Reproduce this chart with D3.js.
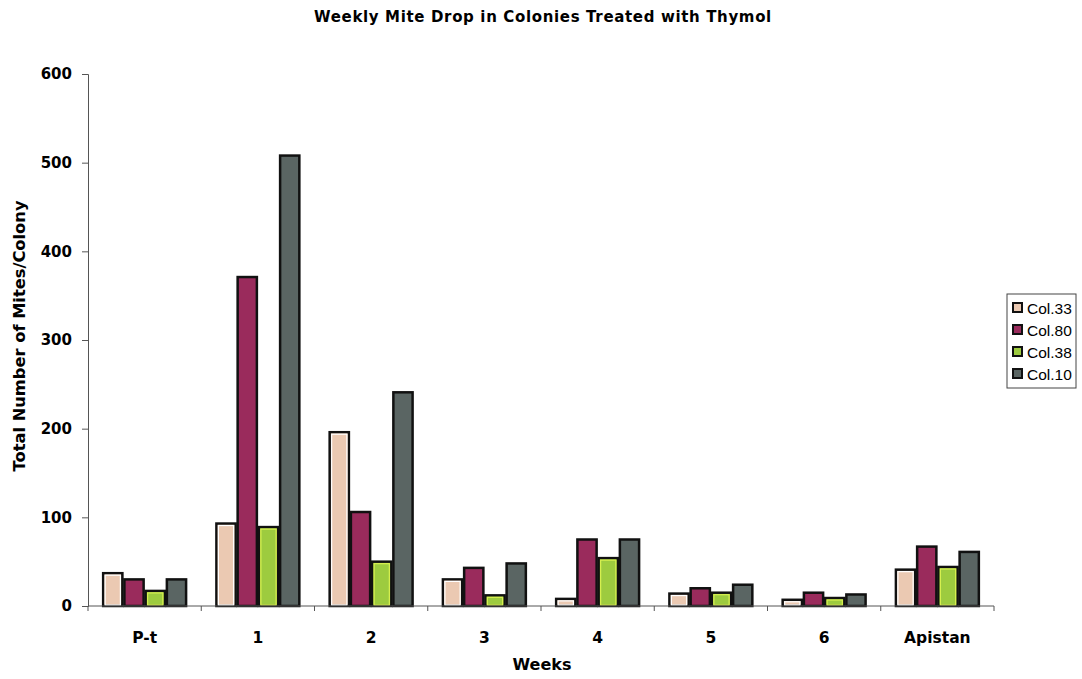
<!DOCTYPE html>
<html>
<head>
<meta charset="utf-8">
<script src="https://cdn.jsdelivr.net/npm/d3@7"></script>
<style>
  html, body { margin: 0; padding: 0; background: #fff; }
  svg { display: block; font-family: "Liberation Sans", Arial, sans-serif; }
  .heavy { font-family: "DejaVu Sans", sans-serif; font-weight: bold; }
</style>
</head>
<body>
<svg id="chart" width="1082" height="679"></svg>
<script>
// Week categories along the x axis
const weeks = ["P-t", "1", "2", "3", "4", "5", "6", "Apistan"];
// Colonies shown in each week group
const colonies = ["Col.33", "Col.80", "Col.38", "Col.10"];
// Total mites dropped per colony, one array per colony, ordered by week
const col33 = [37, 93, 196, 30, 8, 14, 7, 41];
const col80 = [30, 371, 106, 43, 75, 20, 15, 67];
const col38 = [17, 89, 50, 12, 54, 15, 9, 44];
const col10 = [30, 508, 241, 48, 75, 24, 13, 61];
const yTicks = [0, 100, 200, 300, 400, 500, 600];

const seriesValues = [col33, col80, col38, col10];
const fills = ["#ebc9b2", "#9a2b5c", "#9dcb3f", "#5a6563"];
const inner = ["#ffffff", null, "#d8f050", null];

const svg = d3.select("#chart");
const m = { left: 88, right: 994, top: 74, bottom: 606 };

const x = d3.scaleBand().domain(weeks).range([m.left, m.right]).paddingInner(0.25).paddingOuter(0.125);
const xs = d3.scaleBand().domain(colonies).range([0, x.bandwidth()]);
const y = d3.scaleLinear().domain([0, 600]).range([m.bottom, m.top]);

// Bars
const rows = [];
weeks.forEach((w, i) => colonies.forEach((c, j) => rows.push({ w, c, j, v: seriesValues[j][i] })));

const g = svg.append("g");
g.selectAll("rect.bar").data(rows).join("rect")
  .attr("class", "bar")
  .attr("x", d => x(d.w) + xs(d.c) + 1)
  .attr("y", d => y(d.v))
  .attr("width", xs.bandwidth() - 2)
  .attr("height", d => y(0) - y(d.v))
  .attr("fill", d => fills[d.j])
  .attr("stroke", "#111")
  .attr("stroke-width", 2.5);

// thin light inner edge on the pale and green bars
g.selectAll("rect.inner").data(rows.filter(d => inner[d.j] && (y(0) - y(d.v)) > 6)).join("rect")
  .attr("class", "inner")
  .attr("x", d => x(d.w) + xs(d.c) + 3)
  .attr("y", d => y(d.v) + 2)
  .attr("width", xs.bandwidth() - 6)
  .attr("height", d => y(0) - y(d.v) - 3)
  .attr("fill", "none")
  .attr("stroke", d => inner[d.j])
  .attr("stroke-width", 1.2);

// Y axis
const yAxis = d3.axisLeft(y).tickValues(yTicks).tickSize(6).tickPadding(10);
const ya = svg.append("g").attr("transform", `translate(${m.left},0)`).call(yAxis);
ya.select(".domain").attr("stroke", "#555");
ya.selectAll(".tick line").attr("stroke", "#555");
ya.selectAll(".tick text").attr("class", "heavy").attr("font-size", 15).attr("fill", "#000")
  .attr("font-family", null);

// X axis: labels centered in each band, ticks at band boundaries
const xa = svg.append("g").attr("transform", `translate(0,${m.bottom})`);
xa.append("line").attr("x1", m.left).attr("x2", m.right).attr("stroke", "#555");
const step = x.step();
const bounds = d3.range(weeks.length + 1).map(i => m.left + i * step);
xa.selectAll("line.tk").data(bounds).join("line").attr("class", "tk")
  .attr("x1", d => d).attr("x2", d => d).attr("y1", 0).attr("y2", 5).attr("stroke", "#555");
xa.selectAll("text").data(weeks).join("text")
  .attr("class", "heavy")
  .attr("x", d => x(d) + x.bandwidth() / 2)
  .attr("y", 37)
  .attr("text-anchor", "middle")
  .attr("font-size", 15.5)
  .text(d => d);

// Titles
svg.append("text").attr("class", "heavy").attr("x", 543).attr("y", 22).attr("text-anchor", "middle")
  .attr("font-size", 15).attr("letter-spacing", 0.65).text("Weekly Mite Drop in Colonies Treated with Thymol");
svg.append("text").attr("class", "heavy").attr("x", 542).attr("y", 670).attr("text-anchor", "middle")
  .attr("font-size", 16).text("Weeks");
svg.append("text").attr("class", "heavy").attr("transform", "translate(25,336) rotate(-90)").attr("text-anchor", "middle")
  .attr("font-size", 16.3).text("Total Number of Mites/Colony");

// Legend
const lg = svg.append("g").attr("transform", "translate(1007,294)");
lg.append("rect").attr("width", 69).attr("height", 94).attr("fill", "#fff").attr("stroke", "#444").attr("stroke-width", 1);
const li = lg.selectAll("g.item").data(colonies).join("g").attr("class", "item")
  .attr("transform", (d, i) => `translate(6,${14 + i * 22})`);
li.append("rect").attr("x", 0).attr("y", -5).attr("width", 9).attr("height", 9)
  .attr("fill", (d, i) => fills[i]).attr("stroke", "#111").attr("stroke-width", 2);
li.append("text").attr("x", 14).attr("y", 5.5).attr("font-size", 15.5).text(d => d);
</script>
</body>
</html>
